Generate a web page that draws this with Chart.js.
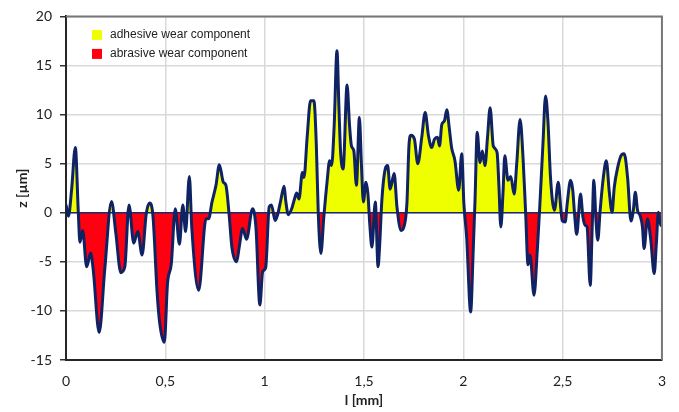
<!DOCTYPE html>
<html>
<head>
<meta charset="utf-8">
<script src="https://cdn.jsdelivr.net/npm/chart.js@4.4.1/dist/chart.umd.min.js"></script>
<style>
  html, body { margin: 0; padding: 0; background: #fff; }
  #wrap { width: 679px; height: 412px; position: relative; }
</style>
</head>
<body>
<div id="wrap"><canvas id="profileChart"></canvas></div>
<script>
// profile position l [mm] and height z [µm]
const profileL = [
  0.000, 0.012, 0.028, 0.047, 0.062, 0.070, 0.084, 0.104, 0.124, 0.137,
  0.167, 0.195, 0.229, 0.251, 0.276, 0.296, 0.317, 0.341, 0.361, 0.383,
  0.404, 0.421, 0.438, 0.458, 0.471, 0.495, 0.511, 0.530, 0.550, 0.571,
  0.588, 0.602, 0.621, 0.633, 0.668, 0.705, 0.718, 0.735, 0.755, 0.772,
  0.792, 0.805, 0.822, 0.835, 0.859, 0.872, 0.889, 0.909, 0.939, 0.956,
  0.976, 0.990, 1.005, 1.023, 1.034, 1.053, 1.064, 1.081, 1.098, 1.106,
  1.119, 1.136, 1.148, 1.161, 1.173, 1.190, 1.198, 1.214, 1.231, 1.248,
  1.260, 1.270, 1.283, 1.298, 1.315, 1.327, 1.337, 1.350, 1.364, 1.374,
  1.382, 1.395, 1.415, 1.427, 1.437, 1.449, 1.462, 1.477, 1.487, 1.497,
  1.510, 1.520, 1.529, 1.540, 1.557, 1.571, 1.579, 1.590, 1.607, 1.619,
  1.632, 1.652, 1.666, 1.687, 1.701, 1.716, 1.727, 1.737, 1.754, 1.771,
  1.791, 1.808, 1.825, 1.841, 1.855, 1.870, 1.880, 1.892, 1.905, 1.917,
  1.929, 1.941, 1.958, 1.977, 1.992, 2.003, 2.017, 2.037, 2.050, 2.059,
  2.070, 2.084, 2.096, 2.109, 2.122, 2.135, 2.151, 2.170, 2.179, 2.189,
  2.200, 2.209, 2.225, 2.239, 2.256, 2.269, 2.286, 2.301, 2.314, 2.326,
  2.336, 2.356, 2.373, 2.384, 2.401, 2.414, 2.426, 2.439, 2.459, 2.478,
  2.491, 2.498, 2.513, 2.523, 2.540, 2.551, 2.560, 2.571, 2.590, 2.602,
  2.615, 2.623, 2.639, 2.649, 2.657, 2.668, 2.677, 2.689, 2.705, 2.720,
  2.735, 2.749, 2.760, 2.777, 2.797, 2.810, 2.827, 2.844, 2.856, 2.866,
  2.877, 2.890, 2.902, 2.910, 2.927, 2.944, 2.961, 2.972, 2.982, 2.994,
  3.000
];
const profileZ = [
  0.8, -0.35, 2.3, 6.65, 0.0, -3.0, -1.8, -5.5, -4.1, -5.8,
  -12.2, -5.8, 1.15, -2.1, -6.1, -5.5, 0.8, -3.1, -1.9, -4.3,
  -0.1, 1.0, -0.4, -7.9, -11.1, -13.2, -7.2, -5.2, 0.4, -3.2,
  0.8, -1.9, 3.7, -1.45, -7.9, -0.6, -0.6, 1.1, 2.8, 4.9,
  3.1, 2.8, -0.4, -3.5, -5.0, -3.5, -1.6, -2.7, 0.4, -1.45,
  -9.4, -6.0, -5.6, 0.6, 0.8, -0.8, -0.3, 1.25, 2.7, 1.25,
  -0.2, 0.4, 1.25, 2.0, 1.4, 4.1, 3.6, 7.7, 11.4, 11.4,
  7.0, -0.1, -4.15, -0.4, 3.3, 5.3, 4.8, 8.85, 16.5, 10.7,
  6.3, 4.45, 13.0, 9.0, 6.8, 6.3, 2.8, 9.7, 5.0, 1.1,
  3.1, 1.9, -1.1, -3.5, 1.1, -5.5, -3.3, 1.25, 4.45, 4.8,
  2.4, 4.0, 0.6, -1.8, -1.45, 0.9, 7.0, 7.9, 7.5, 5.0,
  7.7, 10.2, 7.8, 6.65, 7.5, 7.7, 6.8, 9.0, 9.35, 10.5,
  8.7, 6.65, 5.3, 2.3, 6.0, 0.9, -2.5, -10.1, -3.8, 1.25,
  8.2, 5.1, 6.3, 4.8, 7.7, 10.7, 6.8, 6.15, 2.9, -1.45,
  2.1, 5.8, 3.3, 3.7, 1.9, 5.0, 9.5, 5.5, -0.1, -5.3,
  -4.3, -8.4, -3.65, 0.25, 7.0, 11.9, 9.35, 3.6, 0.25, 3.1,
  0.4, -0.8, -0.95, 0.9, 3.3, 2.3, -0.1, -2.2, 1.9, -0.4,
  -1.3, -1.45, -7.4, -1.45, 3.3, -0.8, -2.8, 0.25, 3.6, 5.3,
  2.1, 0.05, 2.6, 4.6, 5.9, 6.0, 3.6, -0.85, 0.25, 2.1,
  0.25, -0.3, -1.45, -3.65, -0.6, -2.8, -6.2, -3.1, 0.05, -1.3,
  -0.9
];
const xTickLabels = ["0", "0,5", "1", "1,5", "2", "2,5", "3"];
const legendNames = ["adhesive wear component", "abrasive wear component"];
const legendColors = ["#F0FF00", "#FF0010"];

// zero line sits between the fill and the profile line
const zeroLine = {
  id: "zeroLine",
  beforeDatasetsDraw(chart) {
    const { ctx, chartArea, scales } = chart;
    const y0 = scales.y.getPixelForValue(0);
    ctx.save();
    ctx.strokeStyle = "#1a2a6c";
    ctx.lineWidth = 1.5;
    ctx.beginPath();
    ctx.moveTo(chartArea.left, y0);
    ctx.lineTo(chartArea.right, y0);
    ctx.stroke();
    ctx.restore();
  },
};

// gray frame on top/right and the legend inside the plot
const frameAndLegend = {
  id: "frameAndLegend",
  afterDraw(chart) {
    const { ctx, chartArea } = chart;
    ctx.save();
    ctx.strokeStyle = "#777";
    ctx.lineWidth = 2;
    ctx.beginPath();
    ctx.moveTo(chartArea.left, chartArea.top);
    ctx.lineTo(chartArea.right, chartArea.top);
    ctx.lineTo(chartArea.right, chartArea.bottom);
    ctx.stroke();

    ctx.font = '12px "Liberation Sans", Arial, sans-serif';
    ctx.textBaseline = "middle";
    legendNames.forEach((name, i) => {
      const y = chartArea.top + 18.5 + i * 19;
      ctx.fillStyle = legendColors[i];
      ctx.fillRect(chartArea.left + 26, y - 5, 10, 10);
      ctx.fillStyle = "#222";
      ctx.fillText(name, chartArea.left + 44, y);
    });
    ctx.restore();
  },
};

const ctx = document.getElementById("profileChart").getContext("2d");
const profileChart = new Chart(ctx, {
  type: "line",
  data: {
    datasets: [
      {
        label: "profile",
        data: profileL.map((l, i) => ({ x: l, y: profileZ[i] })),
        borderColor: "#0f2263",
        borderWidth: 3,
        pointRadius: 0,
        cubicInterpolationMode: "monotone",
        fill: {
          target: "origin",
          above: legendColors[0],
          below: legendColors[1],
        },
      },
    ],
  },
  options: {
    responsive: true,
    maintainAspectRatio: false,
    animation: false,
    layout: { padding: { top: 15, right: 15, bottom: 0, left: 10 } },
    plugins: {
      legend: { display: false },
      tooltip: { enabled: false },
      filler: { drawTime: "beforeDatasetsDraw" },
    },
    scales: {
      x: {
        type: "linear",
        min: 0,
        max: 3,
        afterFit: (scale) => { scale.height = 52; },
        ticks: {
          stepSize: 0.5,
          padding: 13,
          color: "#222",
          font: { family: "Lato", size: 14 },
          callback: (value, index) => xTickLabels[index],
        },
        grid: { color: "#d9d9d9", lineWidth: 1.5, drawTicks: false },
        border: { color: "#262626", width: 2 },
        title: {
          display: true,
          text: "l [mm]",
          color: "#222",
          font: { family: "Lato", size: 14, weight: "bold" },
          padding: { top: 0, bottom: 3 },
        },
      },
      y: {
        min: -15,
        max: 20,
        afterFit: (scale) => { scale.width = 56; },
        ticks: {
          stepSize: 5,
          padding: 8,
          color: "#222",
          font: { family: "Lato", size: 14 },
        },
        grid: {
          color: "#d9d9d9",
          lineWidth: 1.5,
          tickLength: 6,
          tickColor: "#333",
          tickWidth: 1.5,
        },
        border: { color: "#262626", width: 2 },
        title: {
          display: true,
          text: "z [µm]",
          color: "#222",
          font: { family: "Lato", size: 14, weight: "bold" },
        },
      },
    },
  },
  plugins: [zeroLine, frameAndLegend],
});
</script>
</body>
</html>
